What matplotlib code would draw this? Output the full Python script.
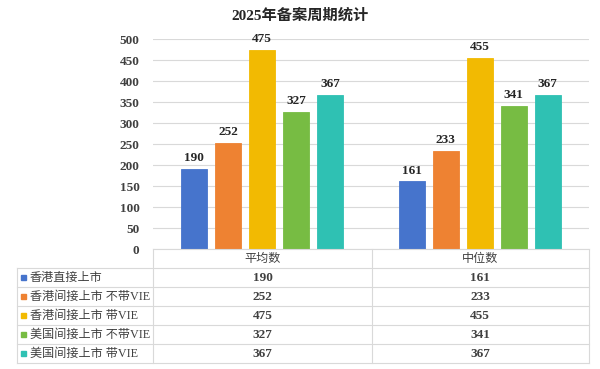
import numpy as np
import matplotlib.pyplot as plt
from matplotlib.patches import Rectangle

plt.rcParams['font.family'] = ['Liberation Serif', 'Noto Sans CJK SC', 'DejaVu Sans']

title = '2025年备案周期统计'
groups = ['平均数', '中位数']
series = ['香港直接上市', '香港间接上市 不带VIE', '香港间接上市 带VIE',
          '美国间接上市 不带VIE', '美国间接上市 带VIE']
avg_vals = [190, 252, 475, 327, 367]
med_vals = [161, 233, 455, 341, 367]
colors = ['#4674CC', '#EE8232', '#F2BA02', '#77BC43', '#2FC1B3']
yticks = [0, 50, 100, 150, 200, 250, 300, 350, 400, 450, 500]

W, H = 600, 369
fig = plt.figure(figsize=(6, 3.69), dpi=100)

# 布局(像素)
x_lab, x_plot, x_mid, x_right = 17.3, 153.3, 371.7, 588.7
y_top, y_zero, y_head, y_bot = 39.3, 249, 268.3, 363.3

ax = fig.add_axes([x_plot / W, (H - y_zero) / H, (x_right - x_plot) / W, (y_zero - y_top) / H])
ax.set_xlim(0, 2)
ax.set_ylim(0, 500)
ax.set_yticks(yticks)
ax.set_xticks([])
ax.yaxis.grid(True, color='#D9D9D9', lw=0.8)
ax.set_axisbelow(True)
for s in ax.spines.values():
    s.set_visible(False)
ax.tick_params(axis='y', length=0, pad=10, labelsize=9.5, labelcolor='#404040')
for t in ax.get_yticklabels():
    t.set_fontweight('bold')

bw = 0.118
step = 0.156
vals = np.array([avg_vals, med_vals])
for i in range(len(series)):
    xs = np.arange(len(groups)) + 0.5 + (i - 2) * step
    bars = ax.bar(xs, vals[:, i], width=bw, color=colors[i], edgecolor=colors[i], lw=0.6)
    for b, v in zip(bars, vals[:, i]):
        ax.annotate(str(v), (b.get_x() + b.get_width() / 2, v), xytext=(0, 3.5),
                    textcoords='offset points', ha='center', va='bottom',
                    fontsize=9.5, fontweight='bold', color='#262626')

fig.text(0.5, 1 - 15 / H, title, ha='center', va='center', fontsize=11,
         fontweight='bold', color='#262626')

# 数据表
tab = fig.add_axes([0, 0, 1, 1])
tab.set_xlim(0, W)
tab.set_ylim(H, 0)
tab.axis('off')
lc = '#D9D9D9'
row_h = (y_bot - y_head) / len(series)
# 横线
tab.plot([x_plot, x_right], [y_zero, y_zero], color=lc, lw=0.8)
for r in range(len(series) + 1):
    y = y_head + r * row_h
    tab.plot([x_lab, x_right], [y, y], color=lc, lw=0.8)
# 竖线
tab.plot([x_lab, x_lab], [y_head, y_bot], color=lc, lw=0.8)
for x in [x_plot, x_mid, x_right]:
    tab.plot([x, x], [y_zero, y_bot], color=lc, lw=0.8)

col_c = [(x_plot + x_mid) / 2, (x_mid + x_right) / 2]
for j, g in enumerate(groups):
    tab.text(col_c[j], (y_zero + y_head) / 2, g, ha='center', va='center',
             fontsize=8.7, color='#404040')
for r, name in enumerate(series):
    yc = y_head + (r + 0.5) * row_h
    tab.add_patch(Rectangle((21, yc - 2.8), 5.2, 5.2, color=colors[r]))
    tab.text(29.5, yc, name, ha='left', va='center', fontsize=8.7, color='#404040')
    for j in range(len(groups)):
        tab.text(col_c[j], yc, str(vals[j, r]), ha='center', va='center',
                 fontsize=9.5, fontweight='bold', color='#404040')

plt.savefig('out.png', dpi=100)
